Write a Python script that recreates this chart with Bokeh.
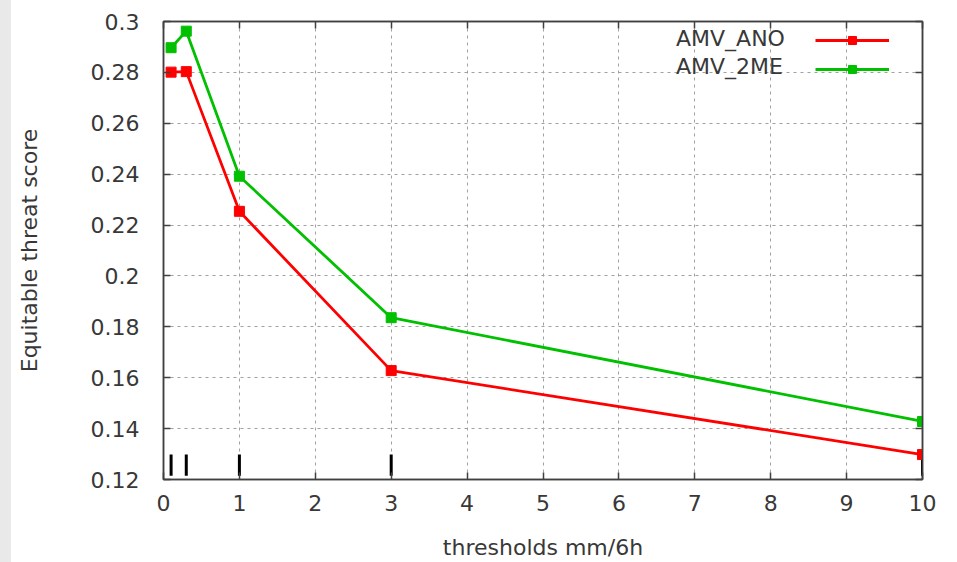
from bokeh.plotting import figure
from bokeh.models import (Range1d, FixedTicker, LinearAxis, Legend, LegendItem,
                          Div, CustomJSTickFormatter)
from bokeh.layouts import row
from bokeh.embed import file_html
from bokeh.resources import INLINE

# ---- data ----
thresholds = [0.1, 0.3, 1, 3, 10]
amv_ano = [0.2801, 0.2803, 0.2254, 0.1628, 0.1298]
amv_2me = [0.2897, 0.2962, 0.2392, 0.1836, 0.1428]
series_names = ["AMV_ANO", "AMV_2ME"]
series_colors = ["#ff0000", "#00c000"]
x_ticks = [0, 1, 2, 3, 4, 5, 6, 7, 8, 9, 10]
y_ticks = [0.12, 0.14, 0.16, 0.18, 0.20, 0.22, 0.24, 0.26, 0.28, 0.30]
y_tick_labels = ["0.12", "0.14", "0.16", "0.18", "0.2", "0.22", "0.24", "0.26", "0.28", "0.3"]
x_label = "thresholds mm/6h"
y_label = "Equitable threat score"
rug_y = (0.1215, 0.1298)

FONT = "DejaVu Sans"
FS = "22px"
TXT = "#383838"
FRAME = "#404040"

p = figure(width=946, height=562, output_backend="svg", toolbar_location=None,
           x_range=Range1d(0, 10), y_range=Range1d(0.12, 0.30),
           min_border_left=152, min_border_right=35, min_border_top=21,
           min_border_bottom=83, background_fill_color="white",
           border_fill_color="white", outline_line_color=FRAME,
           outline_line_width=1.5, margin=(0, 0, 0, 0))

# grid
for g in (p.xgrid, p.ygrid):
    g.grid_line_color = "#a0a0a0"
    g.grid_line_dash = "3 4"
    g.grid_line_width = 1
p.xgrid.ticker = FixedTicker(ticks=x_ticks)
p.ygrid.ticker = FixedTicker(ticks=y_ticks)

# axes
xa = p.xaxis[0]
ya = p.yaxis[0]
xa.ticker = FixedTicker(ticks=x_ticks)
ya.ticker = FixedTicker(ticks=y_ticks)
ya.major_label_overrides = {t: l for t, l in zip(y_ticks, y_tick_labels)}
for ax in (xa, ya):
    ax.major_tick_in = 7
    ax.major_tick_out = 0
    ax.minor_tick_line_color = None
    ax.major_tick_line_color = FRAME
    ax.major_tick_line_width = 1.5
    ax.axis_line_color = FRAME
    ax.axis_line_width = 1.5
    ax.major_label_text_font = FONT
    ax.major_label_text_font_size = FS
    ax.major_label_text_color = TXT
    ax.axis_label_text_font = FONT
    ax.axis_label_text_font_size = FS
    ax.axis_label_text_color = TXT
    ax.axis_label_text_font_style = "normal"
xa.axis_label = x_label
ya.axis_label = y_label
xa.major_label_standoff = 15
xa.axis_label_standoff = 21
ya.major_label_standoff = 24
ya.axis_label_standoff = 46

# mirrored ticks on top and right
blank = CustomJSTickFormatter(code="return ''")
top = LinearAxis(ticker=FixedTicker(ticks=x_ticks), formatter=blank)
right = LinearAxis(ticker=FixedTicker(ticks=y_ticks), formatter=blank)
for ax in (top, right):
    ax.major_tick_in = 7
    ax.major_tick_out = 0
    ax.minor_tick_line_color = None
    ax.major_tick_line_color = FRAME
    ax.major_tick_line_width = 1.5
    ax.axis_line_color = FRAME
    ax.axis_line_width = 1.5
    ax.major_label_text_font_size = "1px"
    ax.major_label_standoff = 0
p.add_layout(top, "above")
p.add_layout(right, "right")

# rug marks at the thresholds
p.segment(x0=thresholds, y0=[rug_y[0]] * len(thresholds),
          x1=thresholds, y1=[rug_y[1]] * len(thresholds),
          line_color="black", line_width=3)

# series
items_text = []
items_glyph = []
for name, vals, col in zip(series_names, [amv_ano, amv_2me], series_colors):
    ln = p.line(thresholds, vals, line_color=col, line_width=2.8)
    sc = p.scatter(thresholds, vals, marker="square", size=10,
                   fill_color=col, line_color=col)
    items_text.append(LegendItem(label=name, renderers=[ln, sc]))
    items_glyph.append(LegendItem(label=" ", renderers=[ln, sc]))

common = dict(padding=0, margin=0, glyph_height=20,
              border_line_color=None, background_fill_alpha=0,
              label_text_font=FONT, label_text_font_size=FS,
              label_text_color=TXT, label_standoff=0)
leg_text = Legend(items=items_text, location=(513, 400), glyph_width=0,
                  label_width=0, spacing=3, **common)
leg_glyph = Legend(items=items_glyph, location=(652, 400), glyph_width=74,
                   label_width=0, spacing=9, **common)
p.add_layout(leg_text, "center")
p.add_layout(leg_glyph, "center")

strip = Div(width=11, height=562, margin=(0, 0, 0, 0),
            styles={"background-color": "#e9e9e9"})
layout = row(strip, p, spacing=0)

open("out.html", "w").write(file_html(layout, INLINE))
